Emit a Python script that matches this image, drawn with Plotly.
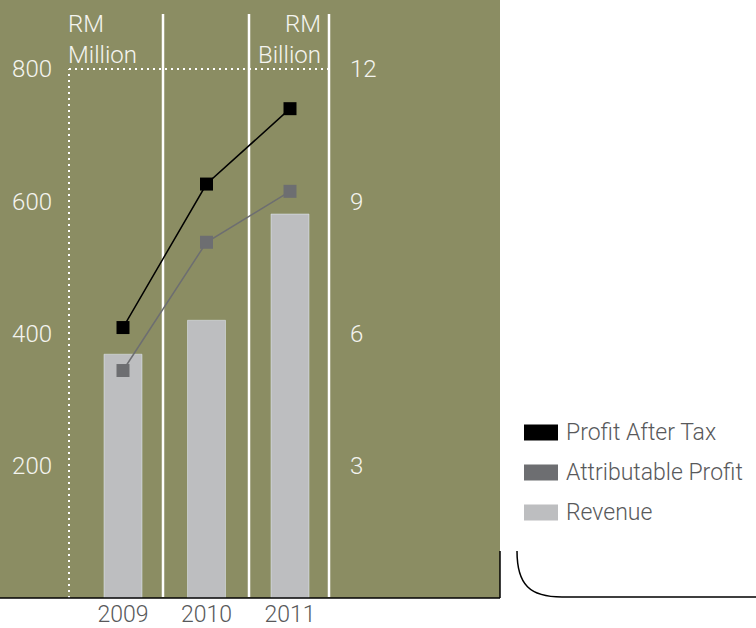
import plotly.graph_objects as go

# ---- data ----
years = ["2009", "2010", "2011"]
revenue_bn = [5.53, 6.30, 8.71]            # RM Billion (bars, right axis)
profit_after_tax = [409, 626, 740]         # RM Million (left axis)
attributable_profit = [344, 538, 615]      # RM Million (left axis)
left_ticks = [200, 400, 600, 800]
right_ticks = [3, 6, 9, 12]

# ---- page geometry (pixels) ----
W, H = 756, 628
PLOT_H = 598
PANEL_R = 500          # right edge of the olive panel
X0_PX, STEP_PX = 123, 83.5
MILLION_MAX = 904.35
BILLION_MAX = MILLION_MAX * 12 / 800

OLIVE = "rgb(139,141,99)"
BAR = "#bdbec0"
ATTR = "#6d6e71"
LABEL = "#f4f4ef"
GREYTXT = "#58595b"
FONT = "Roboto"


def fx(px):
    return px / W


def fy(py):
    return (PLOT_H - py) / PLOT_H


def dx(px):
    return (px - X0_PX) / STEP_PX


fig = go.Figure()

fig.add_trace(go.Bar(
    x=years, y=revenue_bn, name="Revenue", marker_color=BAR,
    width=38 / STEP_PX, yaxis="y", showlegend=False,
))
fig.add_trace(go.Scatter(
    x=years, y=attributable_profit, name="Attributable Profit",
    mode="lines+markers", line=dict(color=ATTR, width=1.5),
    marker=dict(symbol="square", size=13, color=ATTR), yaxis="y2", showlegend=False,
))
fig.add_trace(go.Scatter(
    x=years, y=profit_after_tax, name="Profit After Tax",
    mode="lines+markers", line=dict(color="black", width=1.5),
    marker=dict(symbol="square", size=13, color="black"), yaxis="y2", showlegend=False,
))

shapes = [
    # olive panel
    dict(type="rect", xref="paper", yref="paper", x0=0, x1=fx(PANEL_R), y0=0, y1=1,
         fillcolor=OLIVE, line_width=0, layer="below"),
    # dotted frame at 800
    dict(type="line", xref="paper", yref="y2", x0=fx(69), x1=fx(333), y0=800, y1=800,
         line=dict(color="white", width=2, dash="2px,4px"), layer="below"),
    dict(type="line", xref="paper", yref="paper", x0=fx(69), x1=fx(69), y0=fy(598), y1=fy(69),
         line=dict(color="white", width=2, dash="2px,4px"), layer="below"),
    # bottom axis line and panel edge
    dict(type="line", xref="paper", yref="paper", x0=0, x1=fx(PANEL_R), y0=fy(598), y1=fy(598),
         line=dict(color="black", width=1.5)),
    dict(type="line", xref="paper", yref="paper", x0=fx(PANEL_R), x1=fx(PANEL_R), y0=fy(598), y1=fy(551),
         line=dict(color="black", width=1.5)),
    # rounded corner under the legend
    dict(type="path", xref="paper", yref="paper",
         path=f"M {fx(517)} {fy(551)} C {fx(517)} {fy(585)}, {fx(530)} {fy(597)}, {fx(562)} {fy(597)} L {fx(756)} {fy(597)}",
         line=dict(color="black", width=1.5)),
]
# white separators between years
for sx in [163, 249, 329]:
    shapes.append(dict(type="line", xref="x", yref="paper", x0=dx(sx), x1=dx(sx),
                       y0=fy(597), y1=fy(14), line=dict(color="white", width=2.5), layer="below"))

annotations = [
    dict(text="RM<br>Million", xref="paper", yref="paper", x=fx(66), y=fy(8),
         xanchor="left", yanchor="top", align="left", showarrow=False,
         font=dict(family=FONT, size=24, color=LABEL, weight=300)),
    dict(text="RM<br>Billion", xref="paper", yref="paper", x=fx(323), y=fy(8),
         xanchor="right", yanchor="top", align="right", showarrow=False,
         font=dict(family=FONT, size=24, color=LABEL, weight=300)),
]

# legend: colour swatch + label
legend_items = [("Profit After Tax", "black"), ("Attributable Profit", ATTR), ("Revenue", BAR)]
for i, (label, col) in enumerate(legend_items):
    cy = 432.5 + 40 * i
    shapes.append(dict(type="rect", xref="paper", yref="paper",
                       x0=fx(524), x1=fx(558), y0=fy(cy + 8), y1=fy(cy - 8),
                       fillcolor=col, line_width=0))
    annotations.append(dict(text=label, xref="paper", yref="paper", x=fx(564), y=fy(cy),
                            xanchor="left", yanchor="middle", showarrow=False,
                            font=dict(family=FONT, size=23, color=GREYTXT, weight=300)))

tickfont = dict(family=FONT, size=24, color=LABEL, weight=300)

fig.update_layout(
    width=W, height=H,
    margin=dict(l=0, r=0, t=0, b=H - PLOT_H, pad=0),
    paper_bgcolor="white", plot_bgcolor="rgba(0,0,0,0)",
    showlegend=False,
    xaxis=dict(type="category", range=[dx(0), dx(W)], tickvals=years, ticktext=years,
               showgrid=False, zeroline=False, showline=False, ticks="", automargin=False,
               tickfont=dict(family=FONT, size=23, color=GREYTXT, weight=300)),
    yaxis=dict(range=[0, BILLION_MAX], side="right", anchor="free", position=fx(349),
               tickvals=right_ticks, showgrid=False, zeroline=False, showline=False,
               ticks="", automargin=False, tickfont=tickfont),
    yaxis2=dict(range=[0, MILLION_MAX], overlaying="y", side="left", anchor="free",
                position=fx(52), tickvals=left_ticks, showgrid=False, zeroline=False,
                showline=False, ticks="", automargin=False, tickfont=tickfont),
    shapes=shapes,
    annotations=annotations,
)

fig.write_html("out.html")
